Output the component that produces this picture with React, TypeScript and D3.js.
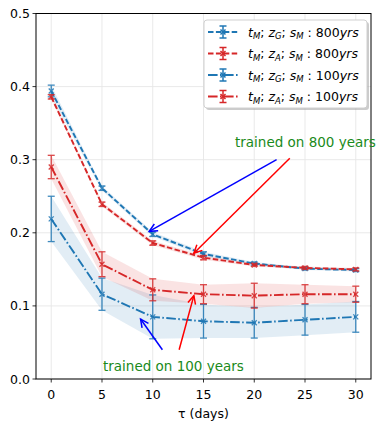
import * as d3 from "d3";
import { useEffect } from "react";

// tau (days)
const days = [0, 5, 10, 15, 20, 25, 30];

// t_M; z_G; s_M : 800yrs
const zG800 = [0.394, 0.261, 0.198, 0.171, 0.158, 0.151, 0.149];
const zG800Err = [0.008, 0.003, 0.003, 0.003, 0.002, 0.002, 0.002];
// t_M; z_A; s_M : 800yrs
const zA800 = [0.386, 0.239, 0.186, 0.166, 0.156, 0.152, 0.15];
const zA800Err = [0.003, 0.003, 0.003, 0.003, 0.002, 0.002, 0.002];
// t_M; z_G; s_M : 100yrs
const zG100 = [0.219, 0.116, 0.085, 0.079, 0.077, 0.081, 0.085];
const zG100Err = [0.031, 0.022, 0.03, 0.023, 0.021, 0.021, 0.021];
// t_M; z_A; s_M : 100yrs
const zA100 = [0.29, 0.157, 0.122, 0.116, 0.114, 0.116, 0.116];
const zA100Err = [0.016, 0.017, 0.015, 0.013, 0.017, 0.013, 0.011];

const xTicks = [0, 5, 10, 15, 20, 25, 30];
const yTicks = [0, 0.1, 0.2, 0.3, 0.4, 0.5];

// annotation arrows, data coords
const arrows800 = [
  { from: [22.2, 0.3], to: [9.65, 0.202], color: "#0000ff" },
  { from: [23.5, 0.302], to: [14.05, 0.172], color: "#ff0000" },
];
const arrows100 = [
  { from: [10.95, 0.04], to: [8.8, 0.082], color: "#0000ff" },
  { from: [12.6, 0.04], to: [14.05, 0.114], color: "#ff0000" },
];

const BLUE = "#1f77b4";
const RED = "#d62728";
const GREEN = "#1a8a1a";
const DASH = "5.5,2.4";
const DASHDOT = "9.6,2.4,1.6,2.4";

type Series = { id: string; sub: string; yrs: string; vals: number[]; err: number[]; color: string; dash: string };

const series: Series[] = [
  { id: "zg800", sub: "G", yrs: "800", vals: zG800, err: zG800Err, color: BLUE, dash: DASH },
  { id: "za800", sub: "A", yrs: "800", vals: zA800, err: zA800Err, color: RED, dash: DASH },
  { id: "zg100", sub: "G", yrs: "100", vals: zG100, err: zG100Err, color: BLUE, dash: DASHDOT },
  { id: "za100", sub: "A", yrs: "100", vals: zA100, err: zA100Err, color: RED, dash: DASHDOT },
];

const W = 381;
const H = 423;
const margin = { top: 13.5, right: 10, bottom: 44, left: 36 };
const FONT = "DejaVu Sans, sans-serif";

function Arrow({ x1, y1, x2, y2, color }: { x1: number; y1: number; x2: number; y2: number; color: string }) {
  const ang = Math.atan2(y2 - y1, x2 - x1);
  const len = 9;
  const spread = 0.45;
  const a1 = [x2 - len * Math.cos(ang - spread), y2 - len * Math.sin(ang - spread)];
  const a2 = [x2 - len * Math.cos(ang + spread), y2 - len * Math.sin(ang + spread)];
  return (
    <g stroke={color} strokeWidth={1.5} fill="none">
      <line x1={x1} y1={y1} x2={x2} y2={y2} />
      <polyline points={`${a1[0]},${a1[1]} ${x2},${y2} ${a2[0]},${a2[1]}`} />
    </g>
  );
}

function LegendLabel({ x, y, sub, yrs }: { x: number; y: number; sub: string; yrs: string }) {
  const it = { fontStyle: "italic" as const };
  return (
    <text x={x} y={y} fontSize={12.5} fontFamily={FONT} fill="#000">
      <tspan {...it}>t</tspan>
      <tspan {...it} fontSize={8.5} dy={2.5}>M</tspan>
      <tspan dy={-2.5}>; </tspan>
      <tspan {...it}>z</tspan>
      <tspan {...it} fontSize={8.5} dy={2.5}>{sub}</tspan>
      <tspan dy={-2.5}>; </tspan>
      <tspan {...it}>s</tspan>
      <tspan {...it} fontSize={8.5} dy={2.5}>M</tspan>
      <tspan dy={-2.5}> : {yrs}</tspan>
      <tspan {...it}>yrs</tspan>
    </text>
  );
}

export default function App() {
  useEffect(() => {
    document.body.style.margin = "0";
  }, []);

  const innerW = W - margin.left - margin.right;
  const innerH = H - margin.top - margin.bottom;

  const x = d3.scaleLinear().domain([-1.5, 31.5]).range([margin.left, margin.left + innerW]);
  const y = d3.scaleLinear().domain([0, 0.5]).range([margin.top + innerH, margin.top]);

  const line = d3
    .line<number>()
    .x((_, i) => x(days[i]))
    .y((d) => y(d));

  const band = (s: Series) =>
    d3
      .area<number>()
      .x((_, i) => x(days[i]))
      .y0((d, i) => y(d - s.err[i]))
      .y1((d, i) => y(d + s.err[i]))(s.vals) ?? "";

  const cap = 3.5;
  const mk = 2.5;

  const legX = 204;
  const legY = 20;
  const legW = 163;
  const legH = 88;

  return (
    <svg width={W} height={H} style={{ display: "block", background: "#fff" }}>
      {/* grid */}
      <g stroke="#e6e6e6" strokeWidth={0.9}>
        {xTicks.map((t) => (
          <line key={"gx" + t} x1={x(t)} x2={x(t)} y1={y(0.5)} y2={y(0)} />
        ))}
        {yTicks.map((t) => (
          <line key={"gy" + t} x1={x(-1.5)} x2={x(31.5)} y1={y(t)} y2={y(t)} />
        ))}
      </g>

      {/* bands */}
      {series.map((s) => (
        <path key={"b" + s.id} d={band(s)} fill={s.color} fillOpacity={0.13} stroke="none" />
      ))}

      {/* lines, error bars, markers */}
      {series.map((s) => (
        <g key={s.id}>
          <path d={line(s.vals) ?? ""} fill="none" stroke={s.color} strokeWidth={1.9} strokeDasharray={s.dash} />
          {s.vals.map((v, i) => {
            const cx = x(days[i]);
            const top = y(v + s.err[i]);
            const bot = y(v - s.err[i]);
            const cy = y(v);
            return (
              <g key={i} stroke={s.color} strokeWidth={1.3} opacity={0.85}>
                <line x1={cx} x2={cx} y1={top} y2={bot} />
                <line x1={cx - cap} x2={cx + cap} y1={top} y2={top} />
                <line x1={cx - cap} x2={cx + cap} y1={bot} y2={bot} />
                <line x1={cx - mk} x2={cx + mk} y1={cy - mk} y2={cy + mk} />
                <line x1={cx - mk} x2={cx + mk} y1={cy + mk} y2={cy - mk} />
              </g>
            );
          })}
        </g>
      ))}

      {/* annotation arrows */}
      {[...arrows800, ...arrows100].map((a, i) => (
        <Arrow key={"a" + i} x1={x(a.from[0])} y1={y(a.from[1])} x2={x(a.to[0])} y2={y(a.to[1])} color={a.color} />
      ))}

      {/* frame */}
      <rect
        x={margin.left}
        y={margin.top}
        width={innerW}
        height={innerH}
        fill="none"
        stroke="#000"
        strokeWidth={1}
      />

      <text x={x(18.1)} y={y(0.318)} fontSize={13.5} fontFamily={FONT} fill={GREEN}>
        trained on 800 years
      </text>
      <text x={x(5.1)} y={y(0.011)} fontSize={13.5} fontFamily={FONT} fill={GREEN}>
        trained on 100 years
      </text>

      {/* ticks */}
      <g fontFamily={FONT} fontSize={12.5} fill="#000">
        {xTicks.map((t) => (
          <g key={"xt" + t}>
            <line x1={x(t)} x2={x(t)} y1={y(0)} y2={y(0) + 3.5} stroke="#000" strokeWidth={0.8} />
            <text x={x(t)} y={y(0) + 20} textAnchor="middle">
              {t}
            </text>
          </g>
        ))}
        {yTicks.map((t) => (
          <g key={"yt" + t}>
            <line x1={margin.left - 3.5} x2={margin.left} y1={y(t)} y2={y(t)} stroke="#000" strokeWidth={0.8} />
            <text x={margin.left - 6} y={y(t) + 4.5} textAnchor="end">
              {d3.format(".1f")(t)}
            </text>
          </g>
        ))}
        <text x={x(15)} y={H - 5} textAnchor="middle">
          τ (days)
        </text>
      </g>

      {/* legend */}
      <rect x={legX + 2} y={legY + 2} width={legW} height={legH} rx={3} fill="#999" opacity={0.5} />
      <rect x={legX} y={legY} width={legW} height={legH} rx={3} fill="#fff" stroke="#cccccc" strokeWidth={0.9} />
      {series.map((s, i) => {
        const ly = legY + 12 + i * 21.5;
        const hx = legX + 19;
        return (
          <g key={"l" + s.id}>
            <g stroke={s.color} strokeWidth={1.5}>
              <line x1={legX + 4} x2={legX + 34} y1={ly} y2={ly} strokeDasharray={s.dash} strokeWidth={1.9} />
              <line x1={hx} x2={hx} y1={ly - 6} y2={ly + 6} />
              <line x1={hx - cap} x2={hx + cap} y1={ly - 6} y2={ly - 6} />
              <line x1={hx - cap} x2={hx + cap} y1={ly + 6} y2={ly + 6} />
              <line x1={hx - mk} x2={hx + mk} y1={ly - mk} y2={ly + mk} />
              <line x1={hx - mk} x2={hx + mk} y1={ly + mk} y2={ly - mk} />
            </g>
            <LegendLabel x={legX + 44} y={ly + 4.5} sub={s.sub} yrs={s.yrs} />
          </g>
        );
      })}
    </svg>
  );
}
